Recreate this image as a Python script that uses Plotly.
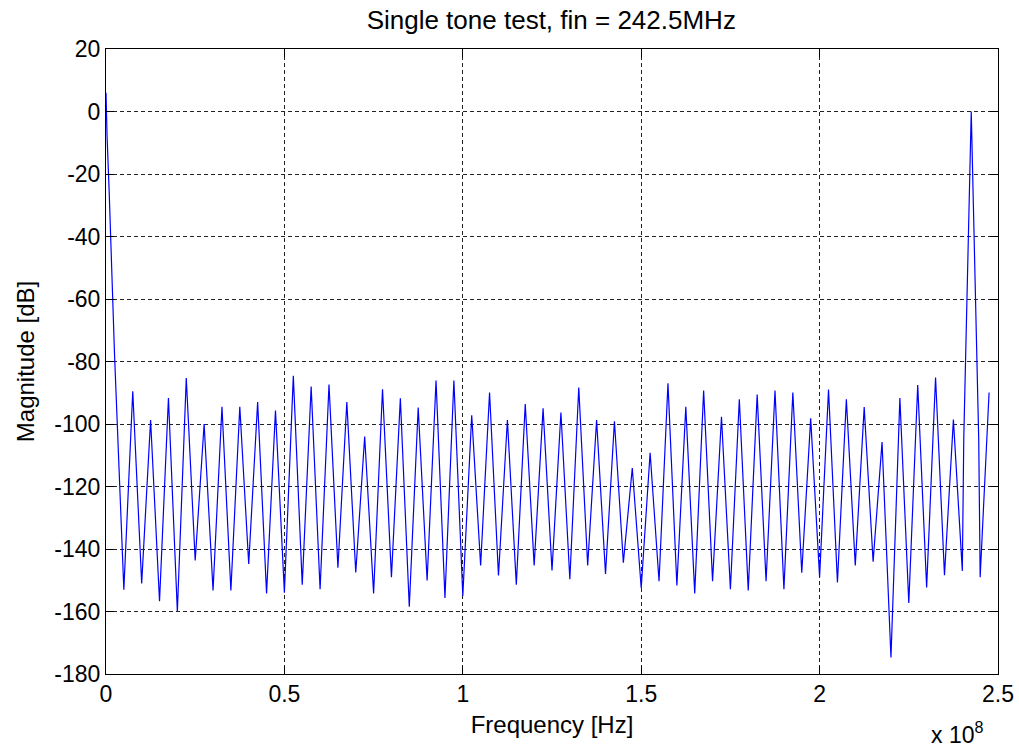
import plotly.graph_objects as go

# Frequency of each extremum / breakpoint of the spectrum, in MHz
freq_mhz = [
    0, 0.3, 0.9, 1.4, 1.9, 2.4,
    5, 7.5, 10, 12.5, 15, 17.5, 20, 22.5, 25, 27.5,
    30, 32.5, 35, 37.5, 40, 42.5, 45, 47.5, 50, 52.5,
    55, 57.5, 60, 62.5, 65, 67.5, 70, 72.5, 75, 77.5,
    80, 82.5, 85, 87.5, 90, 92.5, 95, 97.5, 100, 102.5,
    105, 107.5, 110, 112.5, 115, 117.5, 120, 122.5, 125, 127.5,
    130, 132.5, 135, 137.5, 140, 142.5, 145, 147.5, 150, 152.5,
    155, 157.5, 160, 162.5, 165, 167.5, 170, 172.5, 175, 177.5,
    180, 182.5, 185, 187.5, 190, 192.5, 195, 197.5, 200, 202.5,
    205, 207.5, 210, 212.5, 215, 217.5, 220, 222.5, 225, 227.5,
    230, 232.5, 235, 237.5, 240, 240.4, 242.5, 244.6, 245, 247.5,
]

# Magnitude in dB at those frequencies
mag_db = [
    6, -8, -26, -42, -57, -78,
    -153, -89.5, -151, -98.7, -156.7, -91.7, -160, -85.3, -143.7, -100,
    -153.3, -94.5, -153.3, -94.5, -144.8, -93, -154.2, -95.7, -154, -84.6,
    -151.4, -88, -152.9, -87.4, -146, -93, -147.5, -104, -154.2, -88.9,
    -149, -91.8, -158.5, -94.7, -150.1, -86.1, -155.7, -86.1, -155, -97.2,
    -145.3, -89.9, -148.5, -98.7, -151.4, -93.6, -145.3, -95, -146.9, -96.3,
    -149.7, -88.3, -145.3, -98.7, -148, -99.1, -144.4, -114.1, -152.5, -109.2,
    -150.3, -87, -151.7, -94.5, -154.2, -89.3, -150.3, -97.7, -152.9, -92.1,
    -153.3, -90.6, -150.3, -89.3, -152.9, -89.9, -147.6, -98.2, -149, -89,
    -150.7, -92.1, -145.3, -94.6, -144.1, -105.8, -174.7, -91.7, -157.3, -87.5,
    -152.3, -85.1, -148.4, -98.6, -147, -105, 0, -105, -149, -89.9,
]

x_tick_vals = [0, 0.5e8, 1e8, 1.5e8, 2e8, 2.5e8]
x_tick_text = ["0", "0.5", "1", "1.5", "2", "2.5"]
y_tick_vals = [20, 0, -20, -40, -60, -80, -100, -120, -140, -160, -180]
y_tick_text = ["20", "0", "-20", "-40", "-60", "-80", "-100", "-120", "-140", "-160", "-180"]

freq_hz = [f * 1e6 for f in freq_mhz]

FONT = "Liberation Sans, Arial, sans-serif"

fig = go.Figure()
fig.add_trace(go.Scatter(
    x=freq_hz, y=mag_db, mode="lines",
    line=dict(color="#0000ff", width=1.2),
    showlegend=False,
))

axis_common = dict(
    showline=True, linecolor="black", linewidth=1, mirror="ticks",
    ticks="inside", ticklen=8, tickcolor="black", tickwidth=1,
    showgrid=True, gridcolor="#222222", gridwidth=1, griddash="4px,3px",
    zeroline=False, automargin=False,
    tickfont=dict(family=FONT, size=23, color="black"),
)

fig.update_layout(
    width=1019, height=748,
    paper_bgcolor="white", plot_bgcolor="white",
    margin=dict(l=106, r=21, t=49, b=74, autoexpand=False),
    title=dict(
        text="Single tone test, fin = 242.5MHz",
        x=0.541, xanchor="center", xref="container",
        y=1 - 20 / 748, yanchor="middle", yref="container",
        font=dict(family=FONT, size=26, color="black"),
        automargin=False,
    ),
    xaxis=dict(
        range=[0, 2.5e8], tickvals=x_tick_vals, ticktext=x_tick_text,
        ticklabelstandoff=-1,
        title=dict(text="Frequency [Hz]", font=dict(family=FONT, size=24, color="black"), standoff=10),
        **axis_common,
    ),
    yaxis=dict(
        range=[-180, 20], tickvals=y_tick_vals, ticktext=y_tick_text,
        title=dict(text="Magnitude [dB]", font=dict(family=FONT, size=24, color="black"), standoff=12),
        **axis_common,
    ),
    annotations=[dict(
        text="x 10<sup>8</sup>", xref="paper", yref="paper",
        x=0.985, y=-0.094, xanchor="right", yanchor="middle",
        showarrow=False, font=dict(family=FONT, size=23, color="black"),
    )],
)

fig.write_html(
    "out.html",
    config={"displayModeBar": False},
    post_script="document.body.style.margin='0';document.body.style.overflow='hidden';",
)
